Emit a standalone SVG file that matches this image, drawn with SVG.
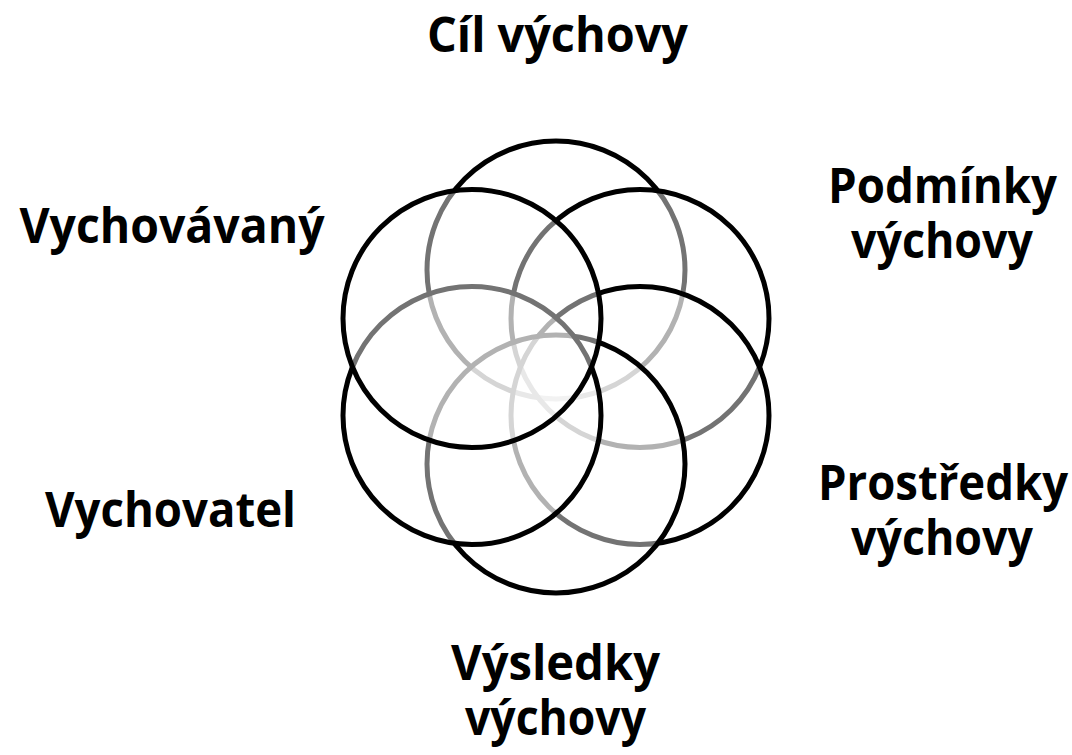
<svg xmlns="http://www.w3.org/2000/svg" width="1072" height="755" viewBox="0 0 1072 755">
<style>
.c{fill:#fff;fill-opacity:0.45;stroke:#000;stroke-width:5}
.t{font-family:"Open Sans","Liberation Sans",sans-serif;font-weight:bold;font-size:48px;fill:#000;text-anchor:middle}
</style>
<rect width="1072" height="755" fill="#fff"/>
<g id="rings">
<g id="ring-top"><circle class="c" cx="556" cy="270" r="129"/></g>
<g id="ring-topright"><circle class="c" cx="640" cy="318.5" r="129"/></g>
<g id="ring-bottomright"><circle class="c" cx="640" cy="415.5" r="129"/></g>
<g id="ring-bottom"><circle class="c" cx="556" cy="464" r="129"/></g>
<g id="ring-bottomleft"><circle class="c" cx="472" cy="415.5" r="129"/></g>
<g id="ring-topleft"><circle class="c" cx="472" cy="318.5" r="129"/></g>
</g>
<g id="connectors"></g>
<g id="label-cil"><text class="t" x="557.5" y="52" textLength="261" lengthAdjust="spacingAndGlyphs">Cíl výchovy</text></g>
<g id="label-vychovavany"><text class="t" x="172" y="243" textLength="305" lengthAdjust="spacingAndGlyphs">Vychovávaný</text></g>
<g id="label-podminky"><text class="t" x="942.5" y="203" textLength="229" lengthAdjust="spacingAndGlyphs">Podmínky</text><text class="t" x="942" y="258" textLength="182" lengthAdjust="spacingAndGlyphs">výchovy</text></g>
<g id="label-prostredky"><text class="t" x="943" y="500" textLength="250" lengthAdjust="spacingAndGlyphs">Prostředky</text><text class="t" x="942" y="555" textLength="182" lengthAdjust="spacingAndGlyphs">výchovy</text></g>
<g id="label-vychovatel"><text class="t" x="170.5" y="527" textLength="251" lengthAdjust="spacingAndGlyphs">Vychovatel</text></g>
<g id="label-vysledky"><text class="t" x="555.5" y="680" textLength="209" lengthAdjust="spacingAndGlyphs">Výsledky</text><text class="t" x="555.5" y="735" textLength="181" lengthAdjust="spacingAndGlyphs">výchovy</text></g>
</svg>
